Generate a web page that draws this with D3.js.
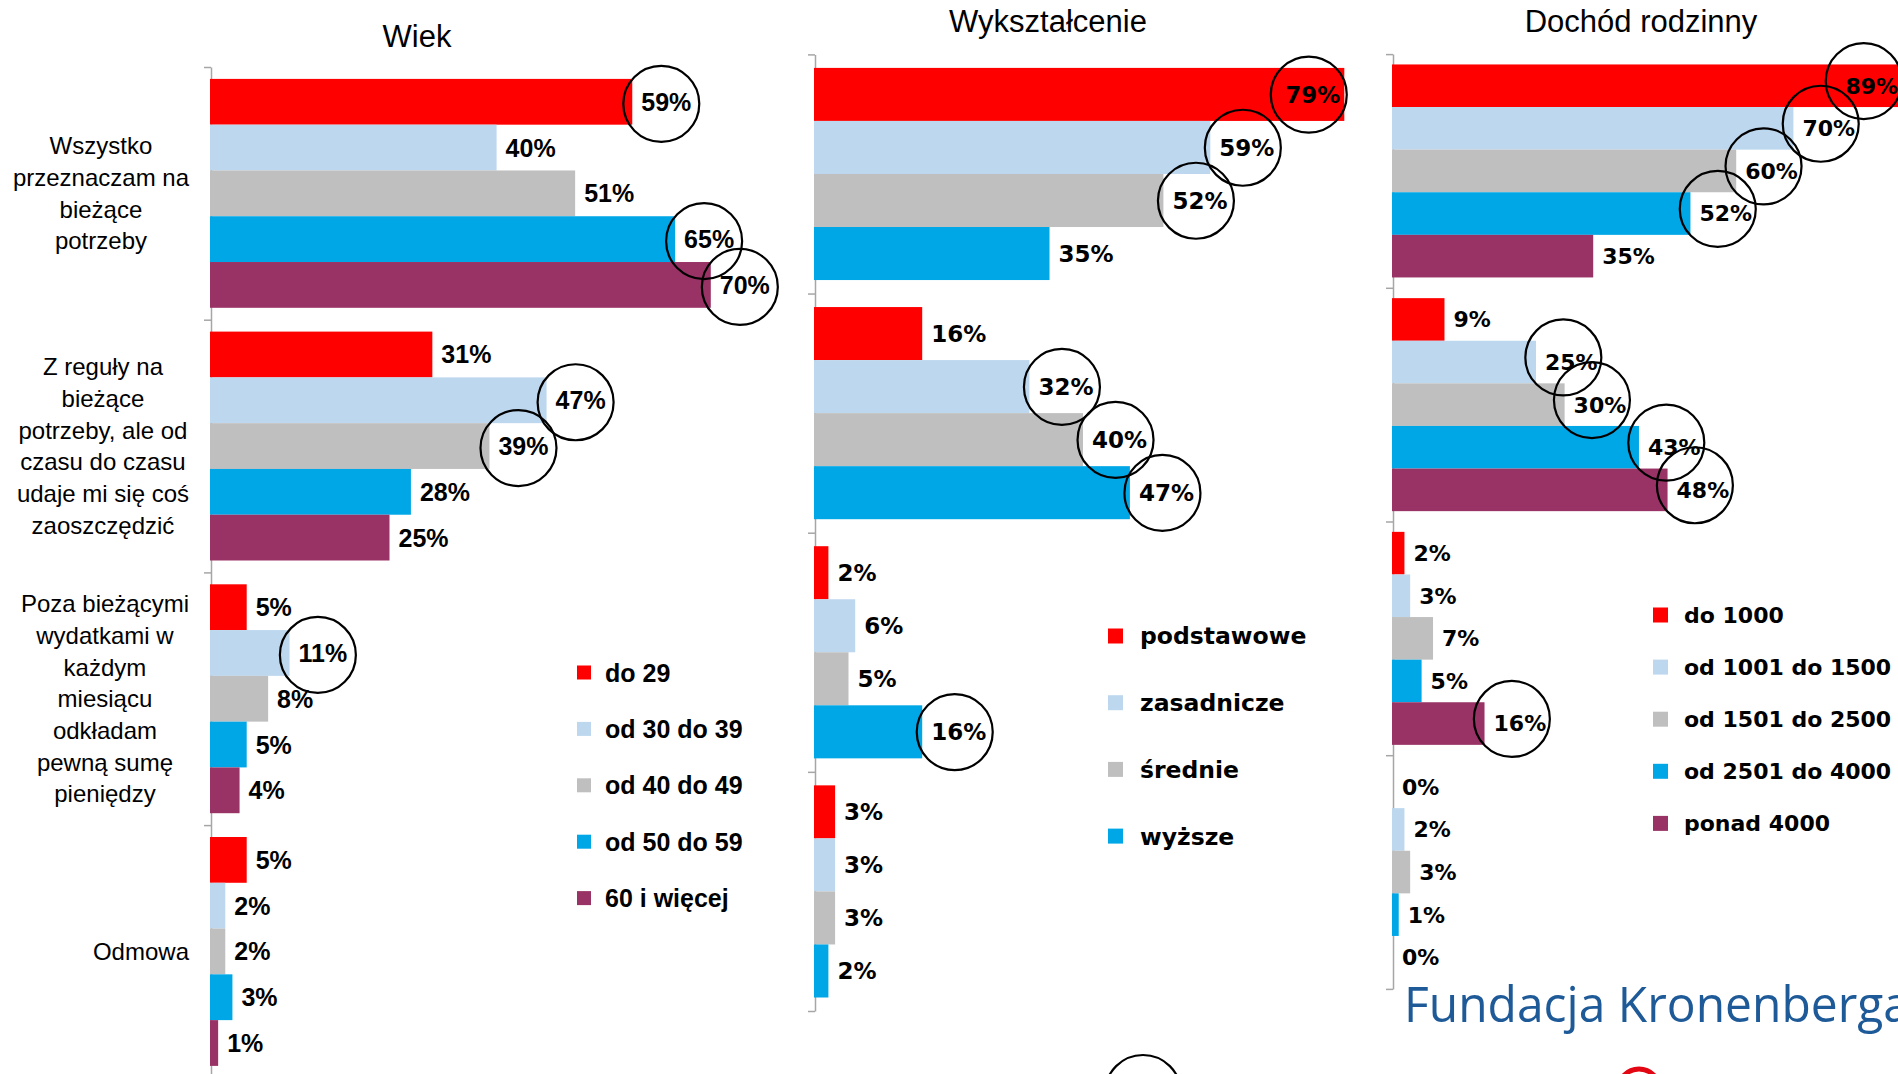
<!DOCTYPE html>
<html>
<head>
<meta charset="utf-8">
<script src="https://cdnjs.cloudflare.com/ajax/libs/d3/7.8.5/d3.min.js"></script>
<style>
  body { margin: 0; background: #fff; }
  svg { display: block; }
</style>
</head>
<body>
<script>
// ---- data ----
var categoryLines = [
  ['Wszystko', 'przeznaczam na', 'bieżące', 'potrzeby'],
  ['Z reguły na', 'bieżące', 'potrzeby, ale od', 'czasu do czasu', 'udaje mi się coś', 'zaoszczędzić'],
  ['Poza bieżącymi', 'wydatkami w', 'każdym', 'miesiącu', 'odkładam', 'pewną sumę', 'pieniędzy'],
  ['Odmowa']
];

var wiekTitle = 'Wiek';
var wiekSeries = ['do 29', 'od 30 do 39', 'od 40 do 49', 'od 50 do 59', '60 i więcej'];
var wiekValues = [[59, 40, 51, 65, 70], [31, 47, 39, 28, 25], [5, 11, 8, 5, 4], [5, 2, 2, 3, 1]];
var wiekCircled = [[0, 0], [0, 3], [0, 4], [1, 1], [1, 2], [2, 1]];

var eduTitle = 'Wykształcenie';
var eduSeries = ['podstawowe', 'zasadnicze', 'średnie', 'wyższe'];
var eduValues = [[79, 59, 52, 35], [16, 32, 40, 47], [2, 6, 5, 16], [3, 3, 3, 2]];
var eduCircled = [[0, 0], [0, 1], [0, 2], [1, 1], [1, 2], [1, 3], [2, 3]];

var incomeTitle = 'Dochód rodzinny';
var incomeSeries = ['do 1000', 'od 1001 do 1500', 'od 1501 do 2500', 'od 2501 do 4000', 'ponad 4000'];
var incomeValues = [[89, 70, 60, 52, 35], [9, 25, 30, 43, 48], [2, 3, 7, 5, 16], [0, 2, 3, 1, 0]];
var incomeCircled = [[0, 0], [0, 1], [0, 2], [0, 3], [1, 1], [1, 2], [1, 3], [1, 4], [2, 4]];

var logoText = 'Fundacja Kronenberga';

// ---- styles / layout ----
var colors = ['#ff0000', '#bdd7ee', '#bfbfbf', '#00a7e6', '#993366'];
var arial = '"Liberation Sans", Arial, sans-serif';
var wide = '"DejaVu Sans", Verdana, sans-serif';

var panels = [
  { title: wiekTitle, series: wiekSeries, values: wiekValues, circled: wiekCircled,
    x0: 211, pxPer: 7.14, max: 100, top: 67, band: 252.7, pad: 11.9,
    titleX: 417, titleY: 47, font: arial, labelSize: 25, circleDx: -5, circleDy: 2,
    legend: { x: 577, y0: 672.5, step: 56.4, size: 14, textX: 605, fontSize: 25 } },
  { title: eduTitle, series: eduSeries, values: eduValues, circled: eduCircled,
    x0: 815, pxPer: 6.70, max: 80, top: 54.4, band: 239.15, pad: 13.5,
    titleX: 1048, titleY: 32, font: wide, labelSize: 23, circleDx: -4, circleDy: 0,
    legend: { x: 1108, y0: 636, step: 66.7, size: 15, textX: 1140, fontSize: 23.5 } },
  { title: incomeTitle, series: incomeSeries, values: incomeValues, circled: incomeCircled,
    x0: 1393, pxPer: 5.72, max: 90, top: 54.1, band: 233.7, pad: 10.35,
    titleX: 1641, titleY: 32, font: wide, labelSize: 22, circleDx: -8, circleDy: -5,
    legend: { x: 1653, y0: 615, step: 52.1, size: 15, textX: 1684, fontSize: 22 } }
];

var svg = d3.select('body').append('svg')
  .attr('width', 1898)
  .attr('height', 1074)
  .style('background', '#fff');

function drawPanel(p) {
  var g = svg.append('g');
  var nGroups = categoryLines.length;

  var y = d3.scaleBand()
    .domain(d3.range(nGroups))
    .range([p.top, p.top + p.band * nGroups]);
  var ys = d3.scaleBand()
    .domain(d3.range(p.series.length))
    .range([p.pad, y.bandwidth() - p.pad]);
  var x = d3.scaleLinear()
    .domain([0, p.max])
    .range([p.x0, p.x0 + p.max * p.pxPer]);

  // title
  g.append('text')
    .attr('x', p.titleX)
    .attr('y', p.titleY)
    .attr('text-anchor', 'middle')
    .style('font-family', arial)
    .style('font-size', '31px')
    .text(p.title);

  // category axis with ticks between groups
  var boundary = d3.scaleLinear().domain([0, nGroups]).range(y.range());
  var axis = g.append('g')
    .attr('transform', 'translate(' + p.x0 + ',0)')
    .call(d3.axisLeft(boundary).ticks(nGroups).tickSizeInner(7).tickSizeOuter(0).tickFormat(''));
  axis.selectAll('path, line').attr('stroke', '#a6a6a6').attr('stroke-width', 1.5);

  // flatten cells
  var cells = [];
  p.values.forEach(function(row, i) {
    row.forEach(function(v, j) { cells.push({ group: i, series: j, value: v }); });
  });

  g.selectAll('rect.bar')
    .data(cells.filter(function(d) { return d.value > 0; }))
    .enter().append('rect')
    .attr('class', 'bar')
    .attr('x', x(0) - 1)
    .attr('y', function(d) { return y(d.group) + ys(d.series); })
    .attr('width', function(d) { return x(d.value) - x(0) + 1; })
    .attr('height', ys.bandwidth())
    .attr('fill', function(d) { return colors[d.series]; });

  var labels = g.selectAll('text.val')
    .data(cells)
    .enter().append('text')
    .attr('class', 'val')
    .attr('x', function(d) { return x(d.value) + 9; })
    .attr('y', function(d) { return y(d.group) + ys(d.series) + ys.bandwidth() / 2; })
    .attr('dy', '0.36em')
    .style('font-family', p.font)
    .style('font-weight', 'bold')
    .style('font-size', p.labelSize + 'px')
    .text(function(d) { return d.value + '%'; });

  // labels that would run past the plot area go inside the bar end
  labels.each(function(d) {
    var w = this.getComputedTextLength();
    if (x(d.value) + 9 + w > x.range()[1]) {
      d3.select(this).attr('x', x(d.value) - 4).attr('text-anchor', 'end');
    }
  });

  // hand-drawn style circles round the highlighted values
  p.circled.forEach(function(c) {
    var node = labels.filter(function(d) { return d.group === c[0] && d.series === c[1]; }).node();
    var b = node.getBBox();
    g.append('ellipse')
      .attr('cx', b.x + b.width / 2 + p.circleDx)
      .attr('cy', b.y + b.height / 2 + p.circleDy)
      .attr('rx', 38)
      .attr('ry', 38)
      .attr('fill', 'none')
      .attr('stroke', '#000')
      .attr('stroke-width', 2.2);
  });

  // legend
  var lg = g.selectAll('g.legend')
    .data(p.series)
    .enter().append('g')
    .attr('class', 'legend')
    .attr('transform', function(d, i) { return 'translate(0,' + (p.legend.y0 + i * p.legend.step) + ')'; });
  lg.append('rect')
    .attr('x', p.legend.x)
    .attr('y', -p.legend.size / 2)
    .attr('width', p.legend.size)
    .attr('height', p.legend.size)
    .attr('fill', function(d, i) { return colors[i]; });
  lg.append('text')
    .attr('x', p.legend.textX)
    .attr('dy', '0.36em')
    .style('font-family', p.font)
    .style('font-weight', 'bold')
    .style('font-size', p.legend.fontSize + 'px')
    .text(function(d) { return d; });

  return { y: y };
}

var first = drawPanel(panels[0]);
panels.slice(1).forEach(drawPanel);

// category labels, only on the first panel: lines centred inside a block right-aligned to 189
var lineH = 31.7;
categoryLines.forEach(function(lines, i) {
  var cy = first.y(i) + first.y.bandwidth() / 2;
  var t = svg.append('g');
  var texts = t.selectAll('text')
    .data(lines)
    .enter().append('text')
    .attr('y', function(d, k) { return cy + (k - (lines.length - 1) / 2) * lineH + 8.5; })
    .attr('text-anchor', 'middle')
    .style('font-family', arial)
    .style('font-size', '24px')
    .text(function(d) { return d; });
  var maxW = d3.max(texts.nodes(), function(n) { return n.getComputedTextLength(); });
  texts.attr('x', 189 - maxW / 2);
});

// stray annotation circle at the bottom edge
svg.append('ellipse')
  .attr('cx', 1143).attr('cy', 1093).attr('rx', 38).attr('ry', 38)
  .attr('fill', 'none').attr('stroke', '#000').attr('stroke-width', 2.2);

// logo (cut off by the right edge, as in the source)
svg.append('text')
  .attr('x', 1404)
  .attr('y', 1022)
  .attr('textLength', 506)
  .attr('lengthAdjust', 'spacingAndGlyphs')
  .style('font-family', '"Open Sans", "Noto Sans", sans-serif')
  .style('font-size', '50px')
  .attr('fill', '#1f5a98')
  .text(logoText);
svg.append('circle')
  .attr('cx', 1639).attr('cy', 1090).attr('r', 21)
  .attr('fill', 'none').attr('stroke', '#e30613').attr('stroke-width', 5);
</script>
</body>
</html>
